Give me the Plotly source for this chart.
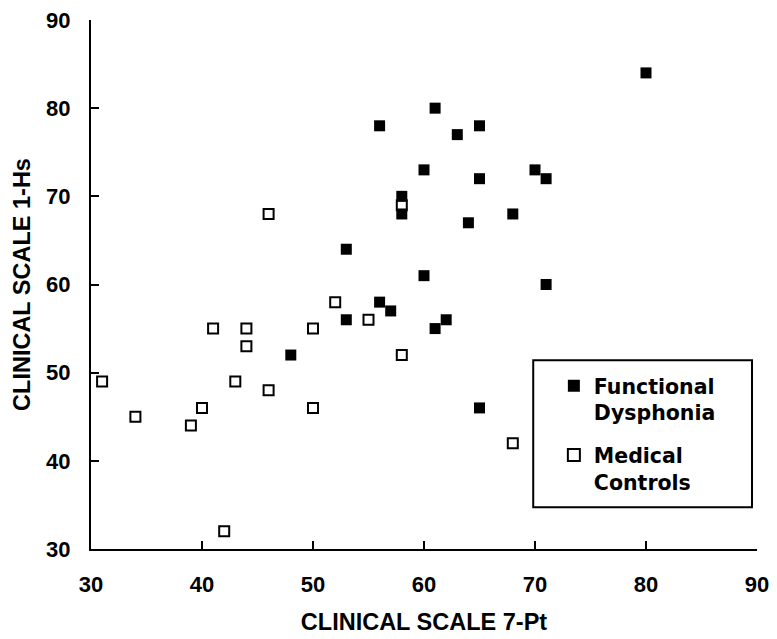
import plotly.graph_objects as go

# Functional Dysphonia (filled squares)
fd_x = [80, 56, 61, 63, 65, 60, 65, 70, 71, 58, 58, 53, 64, 68, 60, 71, 56, 57, 53, 62, 61, 48, 65]
fd_y = [84, 78, 80, 77, 78, 73, 72, 73, 72, 70, 68, 64, 67, 68, 61, 60, 58, 57, 56, 56, 55, 52, 46]

# Medical Controls (open squares)
mc_x = [31, 34, 39, 40, 41, 42, 43, 44, 44, 46, 46, 50, 50, 52, 55, 58, 58, 68]
mc_y = [49, 45, 44, 46, 55, 32, 49, 55, 53, 48, 68, 55, 46, 58, 56, 52, 69, 42]

x_ticks = [30, 40, 50, 60, 70, 80, 90]
y_ticks = [30, 40, 50, 60, 70, 80, 90]

FONT = "Liberation Sans, Arial, sans-serif"
LEG_FONT = "DejaVu Sans, Verdana, sans-serif"

fig = go.Figure()
fig.add_trace(go.Scatter(
    x=fd_x, y=fd_y, mode="markers", name="<b>Functional<br>Dysphonia</b>",
    legendgroup="fd",
    marker=dict(symbol="square", size=11, color="black",
                line=dict(color="black", width=0)),
))
fig.add_trace(go.Scatter(
    x=mc_x, y=mc_y, mode="markers", name="<b>Medical<br>Controls</b>",
    legendgroup="mc",
    marker=dict(symbol="square-open", size=10, color="black",
                line=dict(color="black", width=2)),
))

axis_common = dict(
    showgrid=False, zeroline=False, showline=True, linecolor="black", linewidth=2,
    ticks="inside", ticklen=8, tickwidth=2, tickcolor="black", automargin=False,
    ticklabeloverflow="allow",
    tickfont=dict(family=FONT, size=22, color="black", weight="bold"),
    title_font=dict(family=FONT, size=23.5, color="black", weight="bold"),
)

fig.update_xaxes(range=[30, 90], tickvals=x_ticks, ticktext=[str(v) for v in x_ticks],
                 title_text="CLINICAL SCALE 7-Pt", title_standoff=17,
                 ticklabelstandoff=15, **axis_common)
fig.update_yaxes(range=[30, 90], tickvals=y_ticks, ticktext=[str(v) for v in y_ticks],
                 title_text="CLINICAL SCALE 1-Hs", title_standoff=9,
                 ticklabelstandoff=14, **axis_common)

# legend frame
fig.add_shape(type="rect", xref="paper", yref="paper",
              x0=0.664, x1=0.9925, y0=0.079, y1=0.357,
              line=dict(color="black", width=2), fillcolor="rgba(0,0,0,0)", layer="above")

fig.update_layout(
    width=769, height=631,
    margin=dict(l=83, r=20, t=12, b=90),
    plot_bgcolor="white", paper_bgcolor="white",
    showlegend=True,
    legend=dict(
        x=0.695, y=0.346, xanchor="left", yanchor="top",
        borderwidth=0, bgcolor="rgba(0,0,0,0)",
        font=dict(family=LEG_FONT, size=20.5, color="black"),
        valign="top", itemsizing="constant", traceorder="grouped",
        tracegroupgap=13, itemwidth=30,
    ),
)

fig.write_html("out.html")
